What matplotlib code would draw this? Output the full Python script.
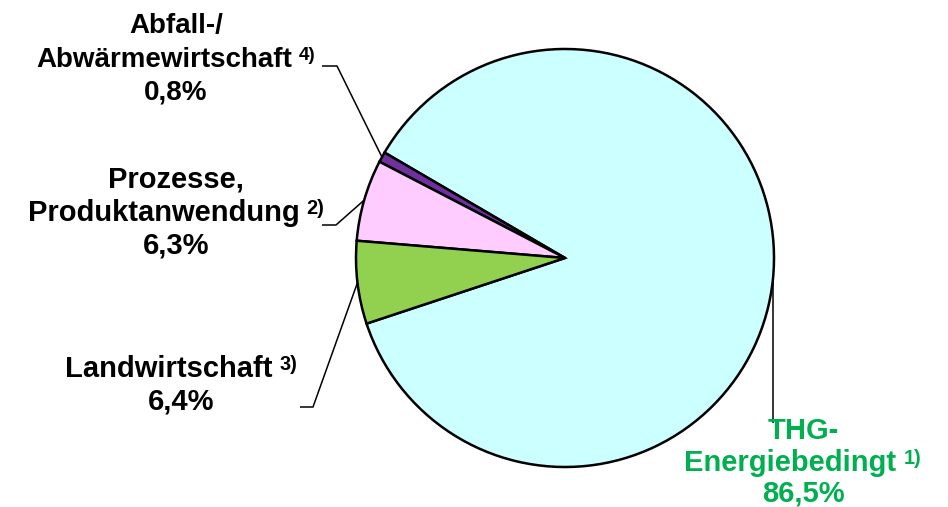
import matplotlib.pyplot as plt
import numpy as np

# Anteile der Treibhausgasemissionen (in %)
labels = ['THG-\nEnergiebedingt', 'Abfall-/\nAbwärmewirtschaft',
          'Prozesse,\nProduktanwendung', 'Landwirtschaft']
notes = ['1)', '4)', '2)', '3)']
shares = [86.5, 0.8, 6.3, 6.4]
colors = ['#CCFFFF', '#7030A0', '#FFCCFF', '#92D050']
text_colors = ['#00B050', 'black', 'black', 'black']

plt.rcParams['font.family'] = 'Liberation Sans'

W, H = 948, 507
fig = plt.figure(figsize=(W / 100, H / 100), dpi=100)
ax = fig.add_axes([0, 0, 1, 1])

cx, cy, r = 565, H - 258, 209
wedges, _ = ax.pie(shares, colors=colors, startangle=198.3, counterclock=True,
                   center=(cx, cy), radius=r,
                   wedgeprops=dict(edgecolor='black', linewidth=1.8))
ax.set_xlim(0, W)
ax.set_ylim(0, H)
ax.set_aspect('equal')
ax.axis('off')

# label layout in pixels from top: elbow of leader, end of leader, text center x, baselines
layout = [
    dict(elbow=(None, 423), end=None, x=803, base=[439, 471, 502], size=21),
    dict(elbow=(337, 66), end=(322, 66), x=176, base=[33, 67, 100], size=20),
    dict(elbow=(336, 225), end=(322, 225), x=176, base=[187, 221, 254], size=21),
    dict(elbow=(313, 407), end=(300, 407), x=181, base=[377, 410], size=21),
]

renderer = fig.canvas.get_renderer()
for w, lab, note, val, col, lo in zip(wedges, labels, notes, shares, text_colors, layout):
    mid = np.deg2rad((w.theta1 + w.theta2) / 2)
    px, py = cx + r * np.cos(mid), cy + r * np.sin(mid)
    ex = px if lo['elbow'][0] is None else lo['elbow'][0]
    xs, ys = [px, ex], [py, H - lo['elbow'][1]]
    if lo['end'] is not None:
        xs.append(lo['end'][0])
        ys.append(H - lo['end'][1])
    ax.plot(xs, ys, color='black', lw=1.1, solid_capstyle='butt')

    fs = lo['size']
    em = fs * 100 / 72
    lines = lab.split('\n') + [f'{val:.1f}'.replace('.', ',') + '%']
    sup_line = len(lines) - 2
    for i, (txt, b) in enumerate(zip(lines, lo['base'])):
        t = ax.text(lo['x'], H - b, txt, ha='center', va='baseline', fontsize=fs,
                    fontweight='bold', color=col)
        if i != sup_line:
            continue
        # footnote mark, raised, centred together with its line
        s = ax.text(0, 0, note, ha='left', va='baseline', fontsize=fs * 0.68,
                    fontweight='bold', color=col)
        w1 = t.get_window_extent(renderer).width
        w2 = s.get_window_extent(renderer).width
        gap = 0.25 * em
        left = lo['x'] - (w1 + gap + w2) / 2
        t.set_ha('left')
        t.set_x(left)
        s.set_position((left + w1 + gap, H - b + 0.24 * em))

fig.savefig('out.png', dpi=100)
